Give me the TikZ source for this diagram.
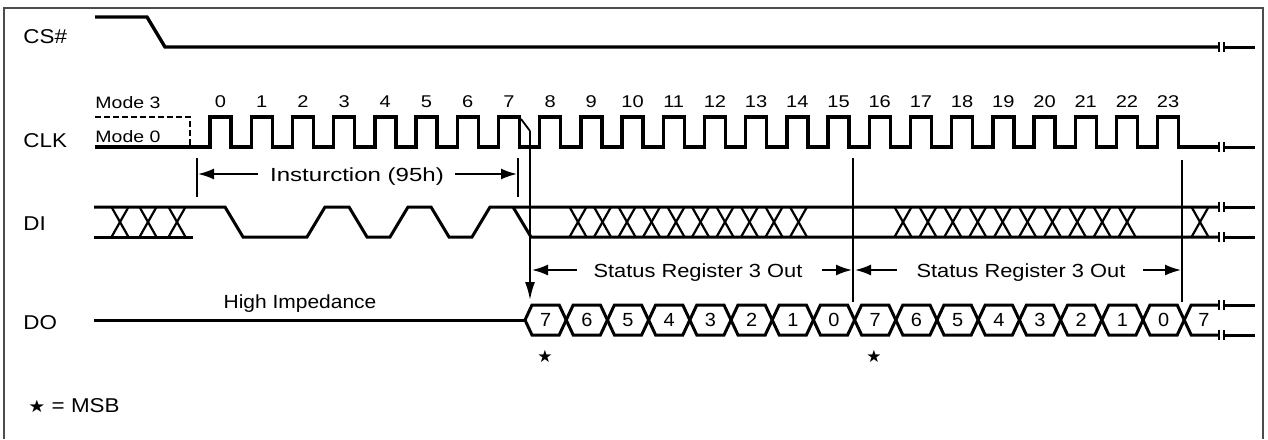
\documentclass[tikz,border=0pt]{standalone}
\usepackage{fontspec}
\setmainfont{Liberation Sans}
\newfontfamily\symfont{DejaVu Sans}
\usetikzlibrary{arrows.meta}
\begin{document}
\begin{tikzpicture}[x=0.5pt,y=-0.5pt,
  sig/.style={line width=1.7pt},
  dsig/.style={line width=1.5pt},
  xmk/.style={line width=1.1pt},
  vline/.style={line width=0.9pt},
  arr/.style={line width=0.9pt,-{Latex[length=8pt,width=5.5pt]}},
  lbl/.style={font=\fontsize{10}{12}\selectfont, anchor=base west, inner sep=0pt, xscale=1.12},
  modetxt/.style={font=\fontsize{8.25}{10}\selectfont, anchor=base west, inner sep=0pt, xscale=1.18},
  num/.style={font=\fontsize{8.5}{10}\selectfont, anchor=base, inner sep=0pt, xscale=1.18},
  ann/.style={font=\fontsize{9.5}{11}\selectfont, anchor=base, inner sep=0pt, xscale=1.15},
  hexd/.style={font=\fontsize{9.5}{11}\selectfont, inner sep=0pt, xscale=1.05},
  starl/.style={font=\symfont\fontsize{8.5}{10}\selectfont, inner sep=0pt}
]
\useasboundingbox (0,0) rectangle (1268,439);
% frame
\draw[line width=1pt, gray!60!black] (4,439) -- (4,8) -- (1263,8) -- (1263,439);

% signal labels
\node[lbl] (lcs)  at (23,43)  {CS\#};
\node[lbl] (lclk) at (23,147) {CLK};
\node[lbl] (ldi)  at (23,230) {DI};
\node[lbl] (ldo)  at (23,329) {DO};

% breaks at the right end
\foreach \yy in {47,147,207,237,305,335} {
  \draw[vline] (1219,{\yy-5}) -- (1219,{\yy+5});
  \draw[line width=1.2pt] (1224,{\yy-5}) -- (1224,{\yy+5});
  \draw[dsig] (1224,\yy) -- (1255,\yy);
}

% CS#
\draw[sig] (95,17) -- (147,17) -- (165,47) -- (1219,47);

% CLK
\node[modetxt] (m3) at (95,108) {Mode 3};
\node[modetxt] (m0) at (95,142) {Mode 0};
\draw[line width=1.1pt, dash pattern=on 3pt off 1.5pt] (95,117) -- (190,117) -- (190,147);
\draw[sig] (95,147) \foreach \k in {0,...,23} {
   -- ({210+41.2*\k},147) -- ({210+41.2*\k},117) -- ({231+41.2*\k},117) -- ({231+41.2*\k},147) } -- (1219,147);
\foreach \k in {0,...,23} {
  \node[num] (n\k) at ({220.5+41.2*\k},107) {\k};
}

% instruction span
\coordinate (tl1) at (197,158); \coordinate (tl2) at (197,197);
\coordinate (tr1) at (518,158); \coordinate (tr2) at (518,197);
\draw[vline] (tl1) -- (tl2);
\draw[vline] (tr1) -- (tr2);
\node[ann, xscale=1.1] (instr) at (357,181) {Insturction (95h)};
\coordinate (ia) at (258,174); \coordinate (ib) at (198,174);
\coordinate (ic) at (455,174); \coordinate (id) at (517,174);
\draw[arr] (ia) -- (ib);
\draw[arr] (ic) -- (id);

% DI
\draw[dsig] (94,207) -- (225,207) -- (243,237) -- (307,237) -- (325,207) -- (349,207)
  -- (367,237) -- (390,237) -- (408,207) -- (431,207) -- (449,237) -- (472,237)
  -- (490,207) -- (1219,207);
\draw[dsig] (94,237) -- (193,237);
\draw[dsig] (513,207) -- (531,237) -- (1219,237);
\foreach \c in {120,148,177,1200} {
  \draw[xmk] ({\c-8.5},207) -- ({\c+8.5},237);
  \draw[xmk] ({\c-8.5},237) -- ({\c+8.5},207);
}
\foreach \i in {0,...,9} {
  \draw[xmk] ({569.5+24.5*\i},207) -- ({586.5+24.5*\i},237);
  \draw[xmk] ({569.5+24.5*\i},237) -- ({586.5+24.5*\i},207);
  \draw[xmk] ({894.5+24.9*\i},207) -- ({911.5+24.9*\i},237);
  \draw[xmk] ({894.5+24.9*\i},237) -- ({911.5+24.9*\i},207);
}

% markers from CLK edges
\coordinate (k7) at (521,119); \coordinate (k7b) at (530,131); \coordinate (k7c) at (530,300);
\draw[vline] (k7) -- (k7b);
\draw[arr, -{Latex[length=9pt,width=5pt]}] (k7b) -- (k7c);
\coordinate (v15a) at (853,158); \coordinate (v15b) at (853,302);
\coordinate (v23a) at (1182,160); \coordinate (v23b) at (1182,302);
\draw[vline] (v15a) -- (v15b);
\draw[vline] (v23a) -- (v23b);

% Status register spans
\node[ann] (sr1) at (698,277) {Status Register 3 Out};
\node[ann] (sr2) at (1021,277) {Status Register 3 Out};
\coordinate (a1) at (577,270); \coordinate (a1t) at (532,270);
\coordinate (a2) at (822,270); \coordinate (a2t) at (852,270);
\coordinate (b1) at (897,270); \coordinate (b1t) at (855,270);
\coordinate (b2) at (1143,270); \coordinate (b2t) at (1181,270);
\draw[arr] (a1) -- (a1t);
\draw[arr] (a2) -- (a2t);
\draw[arr] (b1) -- (b1t);
\draw[arr] (b2) -- (b2t);

% DO
\node[ann, xscale=0.96] (hiz) at (300,308) {High Impedance};
\draw[dsig] (94,320) -- (525,320);
\foreach \k/\d in {0/7,1/6,2/5,3/4,4/3,5/2,6/1,7/0,8/7,9/6,10/5,11/4,12/3,13/2,14/1,15/0} {
  \draw[dsig] ({525+41.2*\k},320) -- ({532+41.2*\k},305) -- ({559.2+41.2*\k},305)
     -- ({566.2+41.2*\k},320) -- ({559.2+41.2*\k},335) -- ({532+41.2*\k},335) -- cycle;
  \node[hexd] (h\k) at ({545.6+41.2*\k},320) {\d};
}
\draw[dsig] (1219,305) -- (1191.2,305) -- (1184.2,320) -- (1191.2,335) -- (1219,335);
\node[hexd] (h16) at (1204,320) {7};

% MSB stars
\node[starl] (s1) at (545,356) {★};
\node[starl] (s2) at (874,356) {★};
\node[lbl, xscale=1.0] (msb) at (28,412) {{\symfont\fontsize{8.5}{10}\selectfont ★} = MSB};
\end{tikzpicture}
\end{document}
